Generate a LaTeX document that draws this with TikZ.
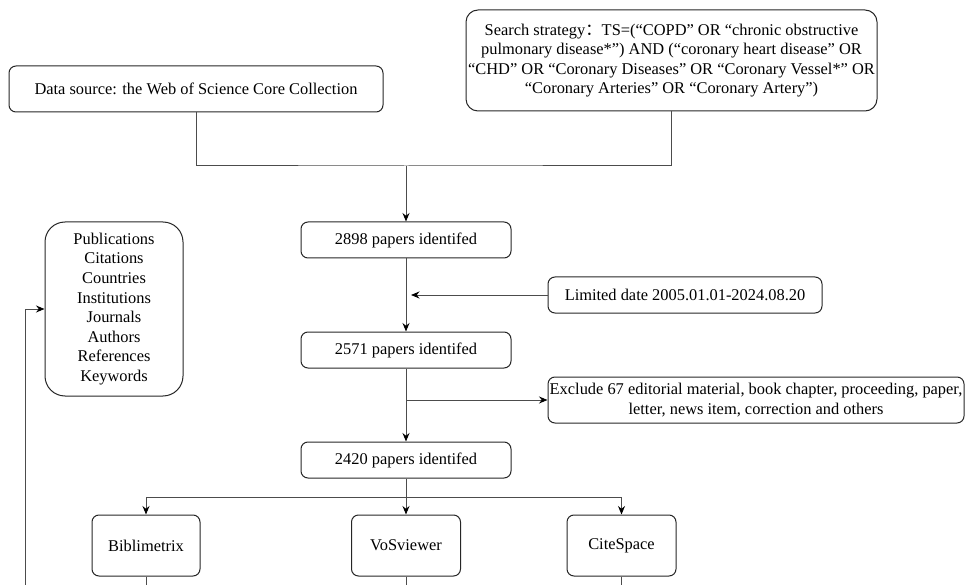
\documentclass[tikz,border=0pt]{standalone}
\usepackage{fontspec}
\setmainfont{Liberation Serif}
\newfontfamily\cjkfont{Noto Sans CJK SC}
\usetikzlibrary{arrows.meta}

\begin{document}
\begin{tikzpicture}[x=1pt,y=-1pt,
  box/.style={draw=black!85, line width=1pt, rounded corners=7pt, align=center,
    font=\fontsize{16.4}{19.6}\selectfont, inner sep=0pt},
  conn/.style={draw=black!70, line width=1pt},
  arr/.style={conn, -{Stealth[length=8.5pt,width=7pt,color=black]}}]
\useasboundingbox (0,0) rectangle (966,585);

% boxes
\node[box, minimum width=374pt, minimum height=46pt] (src) at (196,89)
  {Data source: the Web of Science Core Collection};
\node[box, minimum width=411pt, minimum height=101pt, rounded corners=12pt] (search) at (671.5,60.5)
  {Search strategy{\cjkfont ：}TS=(“COPD” OR “chronic obstructive\\
   pulmonary disease*”) AND (“coronary heart disease” OR\\
   “CHD” OR “Coronary Diseases” OR “Coronary Vessel*” OR\\
   “Coronary Arteries” OR “Coronary Artery”)};
\node[box, minimum width=210pt, minimum height=36pt] (n1) at (406,240) {2898 papers identifed};
\node[box, minimum width=274pt, minimum height=36pt] (lim) at (685,295) {Limited date 2005.01.01-2024.08.20};
\node[box, minimum width=210pt, minimum height=36pt] (n2) at (406,350) {2571 papers identifed};
\node[box, minimum width=416pt, minimum height=46pt] (excl) at (756,400)
  {Exclude 67 editorial material, book chapter, proceeding, paper,\\ letter, news item, correction and others};
\node[box, minimum width=210pt, minimum height=36pt] (n3) at (406,460) {2420 papers identifed};
\node[box, minimum width=108pt, minimum height=61pt] (bib) at (146,545.5) {Biblimetrix};
\node[box, minimum width=109pt, minimum height=61pt] (vos) at (406,545.5) {VoSviewer};
\node[box, minimum width=109pt, minimum height=61pt] (cite) at (621.5,545.5) {CiteSpace};
\node[box, minimum width=138pt, minimum height=174pt, rounded corners=20pt] (pub) at (114,309)
  {Publications\\Citations\\Countries\\Institutions\\Journals\\Authors\\References\\Keywords};

% junction points and free ends
\coordinate (join) at (406,166);
\coordinate (limtip) at (411,295);
\coordinate (exfork) at (406,400);
\coordinate (split) at (406,497);
\coordinate (lb) at (25,585);

% connectors
\draw[conn] (src.south) |- (join) -| (search.south);
\draw[arr] (join) -- (n1.north);
\draw[arr] (n1.south) -- (n2.north);
\draw[arr] (lim.west) -- (limtip);
\draw[arr] (n2.south) -- (n3.north);
\draw[arr] (exfork) -- (excl.west);
\draw[arr] (n3.south) -- (vos.north);
\draw[arr] (split) -| (bib.north);
\draw[arr] (split) -| (cite.north);
\draw[conn] (bib.south) -- (bib.south |- lb);
\draw[conn] (vos.south) -- (vos.south |- lb);
\draw[conn] (cite.south) -- (cite.south |- lb);
\draw[arr] (lb) |- (pub.west);
\end{tikzpicture}
\end{document}
